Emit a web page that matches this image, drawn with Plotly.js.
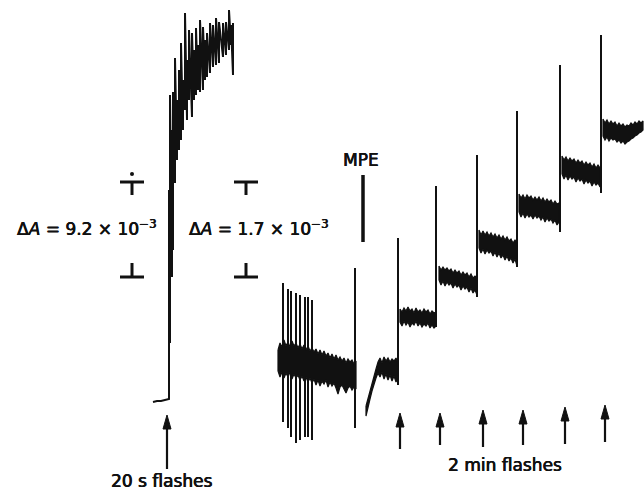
<!DOCTYPE html>
<html><head><meta charset="utf-8">
<script src="https://cdn.plot.ly/plotly-3.0.1.min.js"></script>
<style>html,body{margin:0;padding:0;background:#fff}#chart{width:644px;height:491px}</style>
</head><body><div id="chart"></div>
<script>
// ---- data (x = time position, y = trace level, screen units) ----
// 20 s flash trace
const baseX = [153,157,161,165,168];
const baseY = [402,401,401,400,399];
const leftX   = [169,170,172,173,175,177,179,181,183,185,187,189,192,194,196,198,200,203,205,207,210,213,216,219,223,226,229,231,233];
const leftTop = [190,95,130,92,58,100,70,43,80,13,60,30,33,50,28,45,20,27,40,33,23,25,18,22,23,22,10,25,23];
const leftBot = [399,343,277,250,183,160,150,140,130,110,120,100,117,100,95,90,92,90,80,77,73,67,65,63,57,55,50,45,75];

// 2 min flash trace: flash spikes
const spikeX   = [283,288,291,296,300,305,308,312,355,398,436,477,517,560,601];
const spikeTop = [283,289,291,293,295,297,297,300,268,238,186,155,111,65,35];
const spikeBot = [422,428,437,443,440,437,437,440,428,385,327,297,267,232,193];

// noise bands (upper / lower envelope)
const bandA_x = [278,280,282,284,286,288,290,292,294,296,298,300,302,304,306,308,310,312,314,316,318,320,322,324,326,328,330,332,334,336,338,340,342,344,346,348,350,352,354,356];
const bandA_t = [350,343,347,340,346,342,347,341,346,343,348,344,349,345,350,346,351,348,352,349,354,350,355,351,356,353,358,354,359,355,360,357,361,358,363,359,362,360,364,361];
const bandA_b = [371,377,372,378,373,377,372,379,374,378,375,380,376,381,377,382,378,383,379,385,380,386,381,384,380,387,382,386,383,388,394,387,385,389,393,388,386,390,387,389];
const bandR_x = [366,368,370,372,374,376,378,380,382,384,386,388,390,392,394,396,398];
const bandR_t = [406,398,390,383,376,369,362,358,363,357,361,358,362,359,361,358,363];
const bandR_b = [416,408,399,391,384,378,373,377,372,379,374,380,375,381,376,382,378];
const bandB_x = [400,402,404,406,408,410,412,414,416,418,420,422,424,426,428,430,432,434,436];
const bandB_t = [309,312,308,311,307,311,309,313,308,312,310,313,309,312,310,314,311,313,312];
const bandB_b = [322,326,321,325,322,327,323,325,321,326,323,327,324,326,323,328,325,328,326];
const bandC_x = [439,441,443,445,447,449,451,453,455,457,459,461,463,465,467,469,471,473,475,477];
const bandC_t = [266,270,267,270,268,271,269,273,270,273,271,275,272,275,273,277,274,278,276,278];
const bandC_b = [280,285,281,286,282,285,283,288,284,287,285,290,286,289,287,292,288,293,290,295];
const bandD_x = [479,481,483,485,487,489,491,493,495,497,499,501,503,505,507,509,511,513,515,517];
const bandD_t = [230,235,231,235,232,236,233,237,234,238,235,239,236,240,237,241,239,243,240,243];
const bandD_b = [248,253,249,254,250,253,251,256,252,257,253,258,255,260,256,261,258,263,259,266];
const bandE_x = [519,521,523,525,527,529,531,533,535,537,539,541,543,545,547,549,551,553,555,557,559];
const bandE_t = [194,198,195,199,195,198,196,200,197,200,197,201,198,202,199,202,200,204,201,204,203];
const bandE_b = [212,217,213,218,214,217,215,219,215,218,216,220,217,222,218,221,219,223,220,225,222];
const bandF_x = [562,564,566,568,570,572,574,576,578,580,582,584,586,588,590,592,594,596,598,600];
const bandF_t = [156,160,157,161,158,161,159,163,160,163,161,165,162,165,163,167,164,168,165,168];
const bandF_b = [174,179,175,180,176,179,177,182,178,181,179,184,180,183,181,186,182,185,183,187];
const bandG_x = [603,605,607,609,611,613,615,617,619,621,623,625,627,629,631,633,635,637,639,641,643];
const bandG_t = [119,123,120,124,121,124,122,126,123,126,124,127,125,126,123,125,122,124,121,123,121];
const bandG_b = [136,140,137,141,138,140,139,142,140,143,141,144,142,141,139,138,136,135,133,132,130];

// MPE marker bar
const mpeX = [363], mpeTop = [175], mpeBot = [242];

// scale bars (ΔA)
const scaleX = [132, 246];
const scaleTopY = 182, scaleTopStem = 195, scaleBotStem = 263, scaleBotY = 277, scaleHalf = 12;

// arrows (flash markers)
const arrowX    = [167, 400, 440, 483, 523, 565, 605];
const arrowTip  = [415, 413, 413, 410, 410, 407, 405];
const arrowBase = [469, 449, 445, 447, 445, 444, 442];

// labels
const labels = [
  {text: 'Δ<i>A</i> = 9.2 × 10<sup>−3</sup>', x: 87, y: 228},
  {text: 'Δ<i>A</i> = 1.7 × 10<sup>−3</sup>', x: 259, y: 228},
  {text: 'MPE', x: 361, y: 160},
  {text: '20 s flashes', x: 162, y: 481},
  {text: '2 min flashes', x: 505, y: 465}
];

// ---- build traces ----
const INK = '#111';
const traces = [];

// left trace: baseline then zigzag
const lx = baseX.slice(), ly = baseY.slice();
leftX.forEach((x,i)=>{ lx.push(x, x); ly.push(leftBot[i], leftTop[i]); });
traces.push({x: lx, y: ly, mode:'lines', line:{color:INK, width:2}, hoverinfo:'skip'});

// spikes as vertical segments
const sx = [], sy = [];
spikeX.forEach((x,i)=>{ sx.push(x, x, null); sy.push(spikeTop[i], spikeBot[i], null); });
traces.push({x: sx, y: sy, mode:'lines', line:{color:INK, width:2}, hoverinfo:'skip'});

// bands as filled polygons
function band(xs, ts, bs){
  const x = xs.concat(xs.slice().reverse(), [xs[0]]);
  const y = ts.concat(bs.slice().reverse(), [ts[0]]);
  traces.push({x, y, mode:'lines', fill:'toself', fillcolor:INK, line:{color:INK, width:1.2}, hoverinfo:'skip'});
}
band(bandA_x, bandA_t, bandA_b);
band(bandR_x, bandR_t, bandR_b);
band(bandB_x, bandB_t, bandB_b);
band(bandC_x, bandC_t, bandC_b);
band(bandD_x, bandD_t, bandD_b);
band(bandE_x, bandE_t, bandE_b);
band(bandF_x, bandF_t, bandF_b);
band(bandG_x, bandG_t, bandG_b);

// MPE bar
traces.push({x:[mpeX[0], mpeX[0]], y:[mpeTop[0], mpeBot[0]], mode:'lines', line:{color:INK, width:3.5}, hoverinfo:'skip'});

// scale bars
const bx = [], by = [];
scaleX.forEach(x=>{
  bx.push(x-scaleHalf, x+scaleHalf, null, x, x, null, x, x, null, x-scaleHalf, x+scaleHalf, null);
  by.push(scaleTopY, scaleTopY, null, scaleTopY, scaleTopStem, null, scaleBotStem, scaleBotY, null, scaleBotY, scaleBotY, null);
});
traces.push({x: bx, y: by, mode:'lines', line:{color:INK, width:3}, hoverinfo:'skip'});
traces.push({x:[scaleX[0]], y:[174], mode:'markers', marker:{color:INK, size:4}, hoverinfo:'skip'});

// arrows: shafts + heads
const HEAD_L = 14, HEAD_W = 4;
const ax = [], ay = [], hx = [], hy = [];
arrowX.forEach((x,i)=>{
  ax.push(x, x, null); ay.push(arrowTip[i]+HEAD_L-1, arrowBase[i], null);
  hx.push(x-HEAD_W, x, x+HEAD_W, x-HEAD_W, null);
  hy.push(arrowTip[i]+HEAD_L, arrowTip[i], arrowTip[i]+HEAD_L, arrowTip[i]+HEAD_L, null);
});
traces.push({x: ax, y: ay, mode:'lines', line:{color:INK, width:2.2}, hoverinfo:'skip'});
traces.push({x: hx, y: hy, mode:'lines', fill:'toself', fillcolor:INK, line:{color:INK, width:1}, hoverinfo:'skip'});

const layout = {
  width: 644, height: 491,
  margin: {l:0, r:0, t:0, b:0},
  paper_bgcolor:'#fff', plot_bgcolor:'#fff',
  showlegend:false,
  xaxis: {range:[0,644], visible:false, fixedrange:true},
  yaxis: {range:[491,0], visible:false, fixedrange:true},
  annotations: labels.map(l=>({text:l.text, x:l.x, y:l.y, xref:'x', yref:'y', showarrow:false,
    xanchor:'center', yanchor:'middle',
    font:{family:'DejaVu Sans', size:17, color:INK, shadow:'0.45px 0 0 #111, -0.2px 0 0 #111'}}))
};
Plotly.newPlot('chart', traces, layout, {staticPlot:true, displayModeBar:false});
</script></body></html>
